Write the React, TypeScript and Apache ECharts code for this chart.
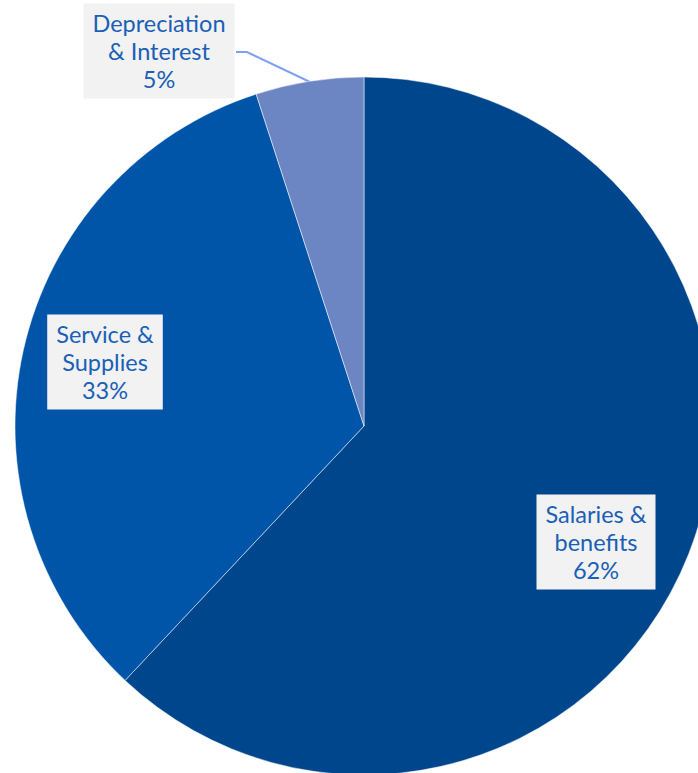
import React, { useEffect, useRef } from "react";
import * as echarts from "echarts";

const categories = ["Salaries &\nbenefits", "Service &\nSupplies", "Depreciation\n& Interest"];
const values = [62, 33, 5];
const colors = ["#00468C", "#0055A8", "#6B86C3"];

export default function App() {
  const ref = useRef<HTMLDivElement>(null);
  useEffect(() => {
    if (!ref.current) return;
    const chart = echarts.init(ref.current, undefined, { renderer: "svg" });
    const labelCenters: Record<number, [number, number]> = {
      0: [596, 542],
      1: [105, 362],
      2: [159, 51],
    };
    chart.setOption({
      animation: false,
      backgroundColor: "#ffffff",
      series: [
        {
          type: "pie",
          center: [364, 426],
          radius: 349,
          startAngle: 90,
          clockwise: true,
          avoidLabelOverlap: false,
          itemStyle: { borderColor: "#ffffff", borderWidth: 0.5 },
          label: {
            show: true,
            position: "outside",
            formatter: (p: any) => `${p.name}\n${p.value}%`,
            fontFamily: "Lato",
            fontSize: 23.5,
            lineHeight: 28,
            color: "#1A60B6",
            backgroundColor: "#F2F2F2",
            padding: [6, 9, 5, 9],
            align: "center",
          },
          labelLine: {
            show: true,
            lineStyle: { color: "#7BA0F5", width: 2 },
          },
          labelLayout: (params: any) => {
            const c = labelCenters[params.dataIndex];
            const out: any = {
              x: c[0],
              y: c[1],
              align: "center",
              verticalAlign: "middle",
            };
            if (params.dataIndex === 2) {
              out.labelLinePoints = [
                [310, 82],
                [247, 52],
                [236, 52],
              ];
            }
            return out;
          },
          data: categories.map((name, i) => ({
            name,
            value: values[i],
            itemStyle: { color: colors[i] },
            labelLine: { show: i === 2 },
          })),
        },
      ],
    });
    return () => chart.dispose();
  }, []);
  return (
    <div
      ref={ref}
      style={{ position: "fixed", left: 0, top: 0, width: 698, height: 773 }}
    />
  );
}
